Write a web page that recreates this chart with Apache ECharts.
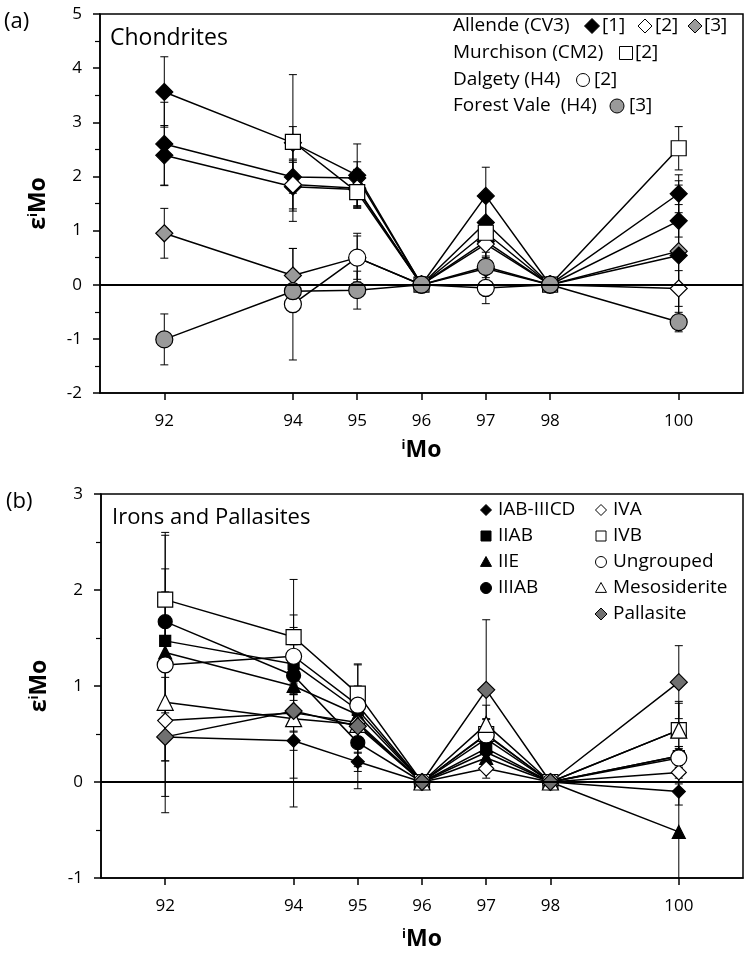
<!DOCTYPE html>
<html>
<head>
<meta charset="utf-8">
<script src="https://cdn.jsdelivr.net/npm/echarts@6/dist/echarts.min.js"></script>
<style>
html,body{margin:0;padding:0;background:#fff;}
#chart{width:750px;height:956px;}
</style>
</head>
<body>
<div id="chart"></div>
<script>
// ---------- DATA ----------
const isotopes = [92, 94, 95, 96, 97, 98, 100];
const xTickValues = [92, 94, 95, 96, 97, 98, 100];

// Panel (a) Chondrites
const allende1_1 = [3.56, 2.62, 2.02, 0, 1.64, 0, 1.68];
const allende1_1Err = [0.65, 0.30, 0.58, null, 0.53, null, 0.35];
const allende1_2 = [2.60, 1.99, 1.97, 0, 1.15, 0, 1.18];
const allende1_2Err = [0.77, 0.30, 0.30, null, 0.50, null, 0.30];
const allende1_3 = [2.39, 1.81, 1.76, 0, 0.80, 0, 0.54];
const allende1_3Err = [0.55, 0.45, 0.30, null, 0.30, null, 1.30];
const allende2 = [null, 1.85, 1.78, 0, 0.75, 0, -0.07];
const allende2Err = [null, 0.68, 0.35, null, 0.30, null, 0.33];
const allende3 = [0.95, 0.17, 0.50, 0, 0.30, 0, 0.62];
const allende3Err = [0.46, 0.50, 0.45, null, 0.30, null, 1.30];
const murchison = [null, 2.64, 1.71, 0, 0.96, 0, 2.52];
const murchisonErr = [null, 1.24, 0.30, null, 0.26, null, 0.40];
const dalgety = [null, -0.36, 0.50, 0, -0.06, 0, null];
const dalgetyErr = [null, 1.03, 0.40, null, 0.29, null, null];
const forestVale = [-1.01, -0.12, -0.10, 0, 0.33, 0, -0.69];
const forestValeErr = [0.47, 0.30, 0.35, null, 0.20, null, 0.18];

// Panel (b) Irons and Pallasites
const iabIIICD = [0.47, 0.43, 0.21, 0, 0.31, 0, -0.10];
const iabIIICDErr = [0.25, 0.10, 0.10, null, 0.08, null, 0.14];
const iiab = [1.47, 1.23, 0.75, 0, 0.35, 0, 0.27];
const iiabErr = [0.20, 0.20, 0.15, null, 0.10, null, 0.10];
const iie = [1.35, 1.00, 0.70, 0, 0.25, 0, -0.52];
const iieErr = [0.15, 0.15, 0.15, null, 0.10, null, 0.50];
const iiiab = [1.67, 1.11, 0.41, 0, 0.45, 0, 0.27];
const iiiabErr = [0.90, 0.20, 0.25, null, 0.10, null, 0.10];
const iva = [0.64, 0.72, 0.62, 0, 0.14, 0, 0.10];
const ivaErr = [0.20, 0.20, 0.15, null, 0.10, null, 0.10];
const ivb = [1.90, 1.51, 0.92, 0, 0.50, 0, 0.54];
const ivbErr = [0.70, 0.60, 0.30, null, 0.15, null, 0.28];
const ungrouped = [1.22, 1.31, 0.80, 0, 0.49, 0, 0.25];
const ungroupedErr = [1.00, 0.30, 0.20, null, 0.17, null, 0.10];
const mesosiderite = [0.83, 0.66, 0.60, 0, 0.60, 0, 0.54];
const mesosideriteErr = [1.15, 0.62, 0.30, null, 0.20, null, 0.30];
const pallasite = [0.47, 0.74, 0.58, 0, 0.96, 0, 1.04];
const pallasiteErr = [0.62, 1.00, 0.65, null, 0.73, null, 0.38];

// ---------- BUILD ----------
const FONT = 'Open Sans';
const series = [];
const errA = [], errB = [];

function addSeries(panel, name, vals, errs, symbol, size, fill) {
  const data = [];
  isotopes.forEach((x, i) => {
    if (vals[i] !== null) {
      data.push([x, vals[i]]);
      if (errs[i] !== null) (panel === 0 ? errA : errB).push([x, vals[i], errs[i]]);
    }
  });
  series.push({
    type: 'line', name: name, xAxisIndex: panel, yAxisIndex: panel,
    data: data, symbol: symbol, symbolSize: size, showAllSymbol: true,
    lineStyle: { color: '#000', width: 1.5 },
    itemStyle: { color: fill, borderColor: '#000', borderWidth: 1.2 },
    z: 3, animation: false, silent: true
  });
}

// panel a order (later = on top)
addSeries(0, 'Allende [3]', allende3, allende3Err, 'diamond', 17, '#9a9a9a');
addSeries(0, 'Dalgety', dalgety, dalgetyErr, 'circle', 17, '#fff');
addSeries(0, 'Allende [1] a', allende1_1, allende1_1Err, 'diamond', 17, '#000');
addSeries(0, 'Allende [1] b', allende1_2, allende1_2Err, 'diamond', 17, '#000');
addSeries(0, 'Allende [1] c', allende1_3, allende1_3Err, 'diamond', 17, '#000');
addSeries(0, 'Allende [2]', allende2, allende2Err, 'diamond', 17, '#fff');
addSeries(0, 'Murchison', murchison, murchisonErr, 'rect', 15, '#fff');
addSeries(0, 'Forest Vale', forestVale, forestValeErr, 'circle', 17, '#9a9a9a');

// panel b
addSeries(1, 'IAB-IIICD', iabIIICD, iabIIICDErr, 'diamond', 13, '#000');
addSeries(1, 'IIAB', iiab, iiabErr, 'rect', 11, '#000');
addSeries(1, 'IIE', iie, iieErr, 'triangle', 13, '#000');
addSeries(1, 'IIIAB', iiiab, iiiabErr, 'circle', 14, '#000');
addSeries(1, 'IVA', iva, ivaErr, 'diamond', 15, '#fff');
addSeries(1, 'IVB', ivb, ivbErr, 'rect', 15, '#fff');
addSeries(1, 'Ungrouped', ungrouped, ungroupedErr, 'circle', 16, '#fff');
addSeries(1, 'Mesosiderite', mesosiderite, mesosideriteErr, 'triangle', 16, '#fff');
addSeries(1, 'Pallasite', pallasite, pallasiteErr, 'diamond', 17, '#707070');

// zero lines
series[0].markLine = { silent: true, symbol: 'none', label: { show: false }, animation: false,
  lineStyle: { color: '#000', width: 2, type: 'solid' }, data: [{ yAxis: 0 }] };
series[8].markLine = { silent: true, symbol: 'none', label: { show: false }, animation: false,
  lineStyle: { color: '#000', width: 2, type: 'solid' }, data: [{ yAxis: 0 }] };

function errRender(yMin) {
  return function (params, api) {
    const x = api.value(0), v = api.value(1), e = api.value(2);
    const lowV = Math.max(v - e, yMin);
    const hi = api.coord([x, v + e]);
    const lo = api.coord([x, lowV]);
    const c = 4;
    const st = { stroke: '#000', lineWidth: 1 };
    const ch = [
      { type: 'line', shape: { x1: hi[0], y1: hi[1], x2: lo[0], y2: lo[1] }, style: st },
      { type: 'line', shape: { x1: hi[0] - c, y1: hi[1], x2: hi[0] + c, y2: hi[1] }, style: st }
    ];
    if (v - e > yMin) ch.push({ type: 'line', shape: { x1: lo[0] - c, y1: lo[1], x2: lo[0] + c, y2: lo[1] }, style: st });
    return { type: 'group', children: ch };
  };
}
series.push({ type: 'custom', xAxisIndex: 0, yAxisIndex: 0, data: errA, encode: { x: 0, y: 1 },
  renderItem: errRender(-2), z: 2, silent: true, animation: false });
series.push({ type: 'custom', xAxisIndex: 1, yAxisIndex: 1, data: errB, encode: { x: 0, y: 1 },
  renderItem: errRender(-1), z: 2, silent: true, animation: false });

function xAxis(idx, gap) {
  return {
    type: 'value', gridIndex: idx, min: 91, max: 101, interval: 1,
    axisLine: { show: true, onZero: false, lineStyle: { color: '#000', width: 1.5 } },
    axisTick: { show: true, customValues: xTickValues, length: 7, lineStyle: { color: '#000', width: 1.5 } },
    axisLabel: { customValues: xTickValues, color: '#000', fontSize: 17, fontFamily: FONT, margin: 20 },
    splitLine: { show: false },
    name: '{s|i}{b|Mo}', nameLocation: 'middle', nameGap: gap,
    nameTextStyle: { rich: {
      s: { fontSize: 13, fontWeight: 'bold', fontFamily: FONT, color: '#000', verticalAlign: 'top', padding: [0, 0, 10, 0] },
      b: { fontSize: 23, fontWeight: 'bold', fontFamily: FONT, color: '#000' } } }
  };
}
function yAxis(idx, mn, mx) {
  return {
    type: 'value', gridIndex: idx, min: mn, max: mx, interval: 1,
    axisLine: { show: true, lineStyle: { color: '#000', width: 1.5 } },
    axisTick: { show: true, length: 7, lineStyle: { color: '#000', width: 1.5 } },
    minorTick: { show: true, splitNumber: 2, length: 5, lineStyle: { color: '#000', width: 1.2 } },
    axisLabel: { color: '#000', fontSize: 17, fontFamily: FONT, margin: 18 },
    splitLine: { show: false },
    name: '{e|ε}{s|i}{b|Mo}', nameLocation: 'middle', nameGap: 50, nameRotate: 90,
    nameTextStyle: { rich: {
      e: { fontSize: 23, fontWeight: 'bold', fontFamily: FONT, color: '#000' },
      s: { fontSize: 13, fontWeight: 'bold', fontFamily: FONT, color: '#000', verticalAlign: 'top', padding: [0, 0, 10, 0] },
      b: { fontSize: 23, fontWeight: 'bold', fontFamily: FONT, color: '#000' } } }
  };
}

// legend helpers (graphic)
function sym(type, cx, cy, s, fill) {
  const h = s / 2;
  const style = { fill: fill, stroke: '#000', lineWidth: 1 };
  if (type === 'diamond') return { type: 'polygon', shape: { points: [[cx, cy - h], [cx + h, cy], [cx, cy + h], [cx - h, cy]] }, style };
  if (type === 'rect') return { type: 'rect', shape: { x: cx - h, y: cy - h, width: s, height: s }, style };
  if (type === 'circle') return { type: 'circle', shape: { cx: cx, cy: cy, r: h }, style };
  if (type === 'triangle') return { type: 'polygon', shape: { points: [[cx, cy - h], [cx + h, cy + h * 0.8], [cx - h, cy + h * 0.8]] }, style };
}
function txt(t, x, y, size) {
  return { type: 'text', x: x, y: y,
    style: { text: t, fontSize: size, fontFamily: FONT, fill: '#000', verticalAlign: 'middle', align: 'left' } };
}
const LF = 19;
const rowsA = [26, 53, 80, 106];
const rowsB = [510, 536, 562, 588, 614];
const graphic = [
  txt('(a)', 4, 22, 22), txt('(b)', 6, 502, 22),
  txt('Chondrites', 110, 38, 23), txt('Irons and Pallasites', 112, 518, 22),
  txt('Allende (CV3)', 453, rowsA[0], LF), sym('diamond', 592, rowsA[0], 15, '#000'), txt('[1]', 602, rowsA[0], LF),
  sym('diamond', 645, rowsA[0], 14, '#fff'), txt('[2]', 655, rowsA[0], LF),
  sym('diamond', 695, rowsA[0], 14, '#9a9a9a'), txt('[3]', 704, rowsA[0], LF),
  txt('Murchison (CM2)', 453, rowsA[1], LF), sym('rect', 626, rowsA[1], 13, '#fff'), txt('[2]', 635, rowsA[1], LF),
  txt('Dalgety (H4)', 453, rowsA[2], LF), sym('circle', 583, rowsA[2], 13, '#fff'), txt('[2]', 594, rowsA[2], LF),
  txt('Forest Vale  (H4)', 453, rowsA[3], LF), sym('circle', 617, rowsA[3], 14, '#9a9a9a'), txt('[3]', 629, rowsA[3], LF),
  sym('diamond', 486, rowsB[0], 11, '#000'), txt('IAB-IIICD', 498, rowsB[0], LF),
  sym('rect', 486, rowsB[1], 10, '#000'), txt('IIAB', 498, rowsB[1], LF),
  sym('triangle', 486, rowsB[2], 11, '#000'), txt('IIE', 498, rowsB[2], LF),
  sym('circle', 486, rowsB[3], 11, '#000'), txt('IIIAB', 498, rowsB[3], LF),
  sym('diamond', 601, rowsB[0], 11, '#fff'), txt('IVA', 613, rowsB[0], LF),
  sym('rect', 601, rowsB[1], 10, '#fff'), txt('IVB', 613, rowsB[1], LF),
  sym('circle', 601, rowsB[2], 11, '#fff'), txt('Ungrouped', 613, rowsB[2], LF),
  sym('triangle', 601, rowsB[3], 11, '#fff'), txt('Mesosiderite', 613, rowsB[3], LF),
  sym('diamond', 601, rowsB[4], 12, '#707070'), txt('Pallasite', 613, rowsB[4], LF)
];

const chart = echarts.init(document.getElementById('chart'), null, { renderer: 'canvas' });
chart.setOption({
  animation: false,
  backgroundColor: '#fff',
  grid: [
    { left: 100, top: 14, width: 643, height: 379, show: true, borderColor: '#000', borderWidth: 1.5, backgroundColor: 'transparent' },
    { left: 101, top: 494, width: 642, height: 384, show: true, borderColor: '#000', borderWidth: 1.5, backgroundColor: 'transparent' }
  ],
  xAxis: [xAxis(0, 46), xAxis(1, 50)],
  yAxis: [yAxis(0, -2, 5), yAxis(1, -1, 3)],
  series: series,
  graphic: graphic
});
</script>
</body>
</html>
